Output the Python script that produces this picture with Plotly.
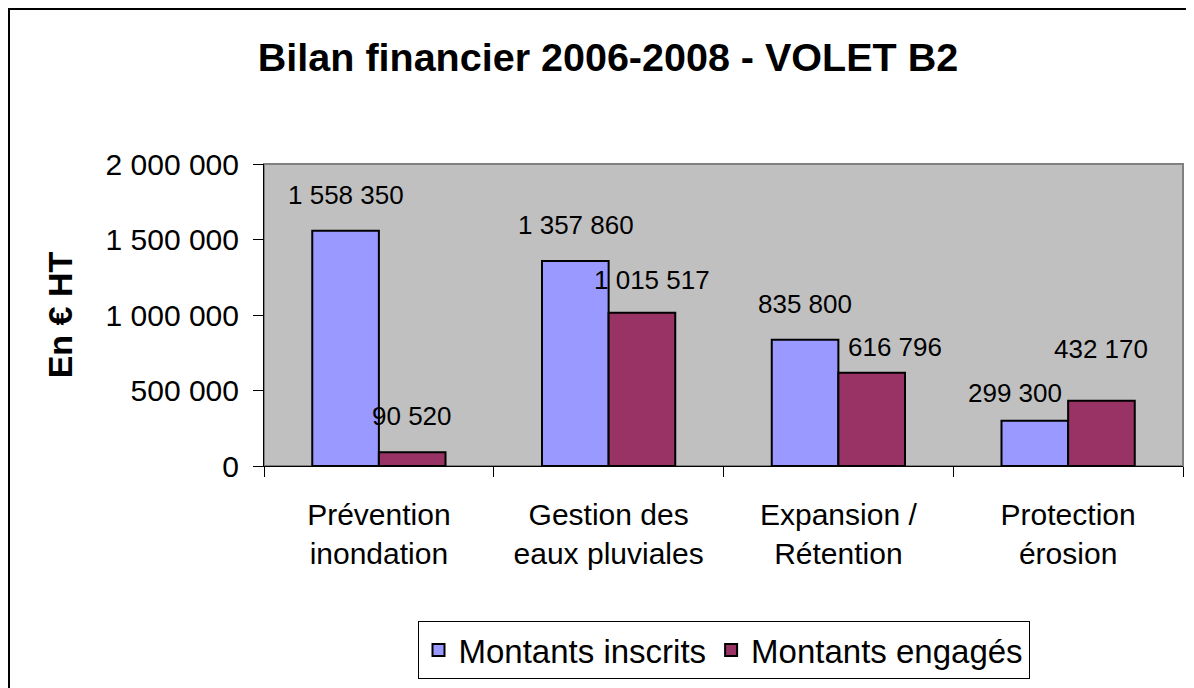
import plotly.graph_objects as go

categories = ["Prévention<br>inondation", "Gestion des<br>eaux pluviales",
              "Expansion /<br>Rétention", "Protection<br>érosion"]
inscrits = [1558350, 1357860, 835800, 299300]
engages = [90520, 1015517, 616796, 432170]
y_ticks = [0, 500000, 1000000, 1500000, 2000000]

FONT = "Liberation Sans, Arial, sans-serif"
BLUE = "#9999FF"
PLUM = "#993366"

# label nudges (px) like excel does to avoid overlaps
dx_inscrits = [0, 0, 0, -20]
dx_engages = [0, 10, 24, 0]
dy_inscrits = [0, 0, 0, -8]
dy_engages = [0, -3, -10, 16]

# plot area in figure pixels (page has an 8px body margin)
L, R, T, B = 256, 19, 156, 230
W, H = 1194, 688
pw, ph = W - L - R, H - T - B


def fmt(v):
    return f"{v:,}".replace(",", " ")


fig = go.Figure()

fig.add_trace(go.Bar(
    x=categories, y=inscrits, name="Montants inscrits",
    marker=dict(color=BLUE, line=dict(color="black", width=2)),
))
fig.add_trace(go.Bar(
    x=categories, y=engages, name="Montants engagés",
    marker=dict(color=PLUM, line=dict(color="black", width=2)),
))

# data labels
for i, cat in enumerate(categories):
    fig.add_annotation(x=cat, y=inscrits[i], text=fmt(inscrits[i]),
                       showarrow=False, yanchor="bottom",
                       xshift=-33 + dx_inscrits[i], yshift=19 + dy_inscrits[i],
                       font=dict(family=FONT, size=26, color="black"))
    fig.add_annotation(x=cat, y=engages[i], text=fmt(engages[i]),
                       showarrow=False, yanchor="bottom",
                       xshift=33 + dx_engages[i], yshift=19 + dy_engages[i],
                       font=dict(family=FONT, size=26, color="black"))

# outer frame of the chart (cut at right / bottom like the original)
fig.add_shape(type="rect", xref="paper", yref="paper",
              x0=(1 - L) / pw, x1=1.2, y0=-1.0, y1=(H - B - 1) / ph,
              line=dict(color="black", width=2), layer="below")
# plot area border
fig.add_shape(type="rect", xref="paper", yref="paper",
              x0=0, x1=1, y0=0, y1=1,
              line=dict(color="#808080", width=2), layer="below")

fig.update_layout(
    width=W, height=H,
    margin=dict(l=L, r=R, t=T, b=B),
    paper_bgcolor="white",
    plot_bgcolor="#C0C0C0",
    separators=", ",
    barmode="group",
    bargap=0.42,
    bargroupgap=0,
    title=dict(text="<b>Bilan financier 2006-2008 - VOLET B2</b>",
               x=600 / W, xanchor="center", y=1 - 49 / H, yanchor="middle",
               font=dict(family=FONT, size=39.5, color="black")),
    xaxis=dict(
        showline=True, linecolor="black", linewidth=1,
        ticks="outside", ticklen=10, tickcolor="black",
        tickson="boundaries",
        ticklabelstandoff=22,
        tickfont=dict(family=FONT, size=30, color="black"),
        showgrid=False,
    ),
    yaxis=dict(
        range=[0, 2000000],
        tickvals=y_ticks,
        tickformat=",d",
        showline=True, linecolor="black", linewidth=1,
        ticks="outside", ticklen=10, tickcolor="black",
        ticklabelstandoff=8,
        tickfont=dict(family=FONT, size=30, color="black"),
        showgrid=False, zeroline=False,
        title=dict(text="<b>En € HT</b>", standoff=22,
                   font=dict(family=FONT, size=34, color="black")),
    ),
    legend=dict(
        orientation="h", x=0.5, xanchor="center", y=(H - B - 613) / ph,
        yanchor="top",
        bordercolor="black", borderwidth=1, bgcolor="white",
        font=dict(family=FONT, size=33, color="black"),
        itemsizing="constant",
    ),
    showlegend=True,
)

fig.write_html("out.html")
